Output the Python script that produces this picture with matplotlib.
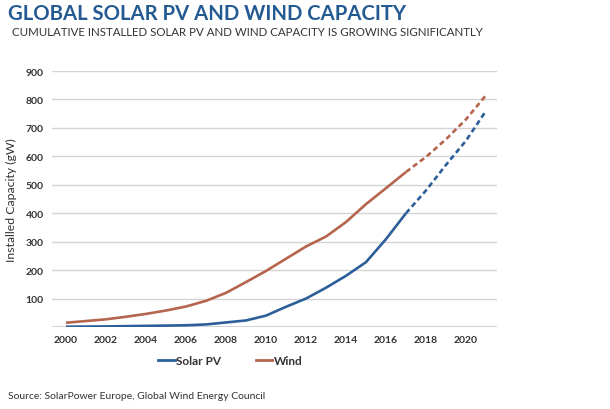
import matplotlib
matplotlib.use("Agg")
import matplotlib.pyplot as plt
from matplotlib.lines import Line2D

years = [2000, 2001, 2002, 2003, 2004, 2005, 2006, 2007, 2008, 2009, 2010, 2011,
         2012, 2013, 2014, 2015, 2016, 2017, 2018, 2019, 2020, 2021]
solar = [1, 1.5, 2, 3, 4, 5, 6, 9, 16, 23, 40, 71,
         100, 138, 180, 228, 309, 400, 480, 570, 655, 760]
wind = [15, 21, 27, 36, 46, 58, 72, 92, 120, 158, 197, 240,
        283, 318, 369, 432, 488, 545, 598, 660, 730, 815]
actual_end = 2017
yticks = [100, 200, 300, 400, 500, 600, 700, 800, 900]
xticks = [2000, 2002, 2004, 2006, 2008, 2010, 2012, 2014, 2016, 2018, 2020]

blue = "#2c5f99"
red = "#b5654d"
plt.rcParams['font.family'] = ['Lato', 'DejaVu Sans']

fig = plt.figure(figsize=(6.1, 4.1), dpi=100)
ax = fig.add_axes([52/610, 1-328/410, (497-52)/610, (328-72)/410])

n = years.index(actual_end) + 1
for vals, c in [(solar, blue), (wind, red)]:
    ax.plot(years[:n], vals[:n], color=c, lw=1.9, solid_capstyle='butt')
    ax.plot(years[n-1:], vals[n-1:], color=c, lw=1.9, ls=(0, (2.0, 1.3)))

ax.set_xlim(1999.3, 2021.55)
ax.set_ylim(0, 900)
ax.set_yticks(yticks)
ax.set_xticks(xticks)
ax.grid(axis='y', color='#d4d4d4', lw=1)
ax.axhline(0, color='#d4d4d4', lw=1.5, zorder=0)
ax.set_axisbelow(True)
for s in ax.spines.values():
    s.set_visible(False)
ax.tick_params(length=0, labelsize=7.5, labelcolor='#333333', pad=6)
for lab in ax.get_xticklabels() + ax.get_yticklabels():
    lab.set_fontweight('bold')
ax.set_ylabel("Installed Capacity (gW)", fontsize=8.8, color='#333333', labelpad=6)

fig.text(8/610, 1-14/410, "GLOBAL SOLAR PV AND WIND CAPACITY", fontsize=14.6,
         fontweight='bold', color='#245a92', va='center', ha='left')
fig.text(12/610, 1-33/410, "CUMULATIVE INSTALLED SOLAR PV AND WIND CAPACITY IS GROWING SIGNIFICANTLY",
         fontsize=8.25, color='#333333', va='center', ha='left')

handles = [Line2D([0], [0], color=blue, lw=2), Line2D([0], [0], color=red, lw=2)]
leg = fig.legend(handles, ["Solar PV", "Wind"], loc='center left', bbox_to_anchor=(158/610, 1-362/410),
                 ncol=2, frameon=False, borderpad=0, borderaxespad=0, handlelength=1.4,
                 handletextpad=0.15, columnspacing=2.9,
                 prop={'weight': 'bold', 'size': 8.5})
for t in leg.get_texts():
    t.set_color('#333333')

fig.text(8/610, 1-397/410, "Source: SolarPower Europe, Global Wind Energy Council",
         fontsize=7.5, color='#333333', va='center', ha='left')

fig.savefig("out.png", dpi=100)
